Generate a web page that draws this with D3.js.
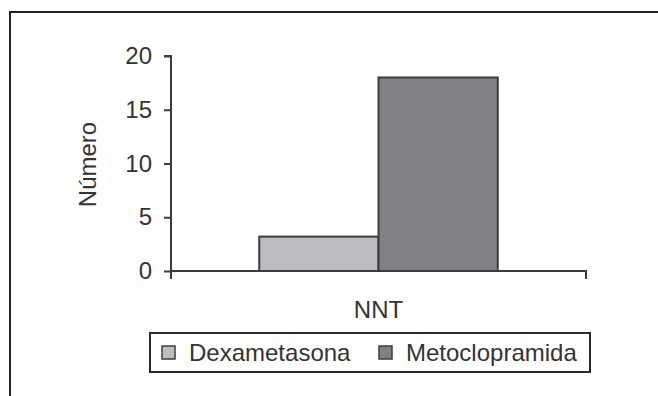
<!DOCTYPE html>
<html>
<head>
<meta charset="utf-8">
<script src="https://cdn.jsdelivr.net/npm/d3@7"></script>
<style>
  html, body { margin: 0; padding: 0; background: #fff; }
  svg { display: block; font-family: "Liberation Sans", Arial, sans-serif; }
</style>
</head>
<body>
<svg id="chart" width="658" height="396"></svg>
<script>
// NNT by drug
const categories = ["NNT"];
const seriesNames = ["Dexametasona", "Metoclopramida"];
const seriesValues = [3.2, 18];
const seriesColors = ["#bcbdc0", "#808184"];
const yTicks = [0, 5, 10, 15, 20];
const yLabel = "Número";

const svg = d3.select("#chart");
const ink = "#3c3c3c";
const textColor = "#333";
const fontSize = 24;

// outer frame (top and left edges)
svg.append("path")
  .attr("d", "M10,396 V12 H658")
  .attr("fill", "none")
  .attr("stroke", "#222")
  .attr("stroke-width", 2);

const plot = { left: 171, right: 586, top: 56, bottom: 271 };

const x0 = d3.scaleBand().domain(categories).range([plot.left, plot.right]).paddingInner(0).paddingOuter(0);
const x1 = d3.scaleBand().domain(seriesNames).range([0, x0.bandwidth()]).paddingInner(0).paddingOuter(0.74);
const y = d3.scaleLinear().domain([0, 20]).range([plot.bottom, plot.top]);

// bars
const g = svg.append("g");
categories.forEach(cat => {
  seriesNames.forEach((s, i) => {
    g.append("rect")
      .attr("x", x0(cat) + x1(s))
      .attr("y", y(seriesValues[i]))
      .attr("width", x1.bandwidth())
      .attr("height", y(0) - y(seriesValues[i]))
      .attr("fill", seriesColors[i])
      .attr("stroke", ink)
      .attr("stroke-width", 2);
  });
});

// y axis
const yAxis = d3.axisLeft(y).tickValues(yTicks).tickSize(7).tickPadding(12).tickFormat(d3.format("d"));
const ya = svg.append("g").attr("transform", `translate(${plot.left},0)`).call(yAxis);
ya.attr("font-size", null).attr("font-family", null);
ya.select(".domain").attr("d", `M-7,${plot.top}H0V${plot.bottom + 8}`).attr("stroke", ink).attr("stroke-width", 2);
ya.selectAll(".tick line").attr("stroke", ink).attr("stroke-width", 2);
ya.selectAll(".tick text").style("font-size", fontSize + "px").attr("fill", textColor);

// x axis
const xAxis = d3.axisBottom(x0).tickSize(0).tickFormat("");
const xa = svg.append("g").attr("transform", `translate(0,${plot.bottom})`).call(xAxis);
xa.select(".domain").attr("d", `M${plot.left},0H${plot.right}V8`).attr("stroke", ink).attr("stroke-width", 2).attr("fill", "none");
xa.selectAll(".tick").remove();

// category label
categories.forEach(cat => {
  svg.append("text")
    .attr("x", x0(cat) + x0.bandwidth() / 2)
    .attr("y", 318)
    .attr("text-anchor", "middle")
    .style("font-size", fontSize + "px")
    .attr("fill", textColor)
    .text(cat);
});

// y axis title
svg.append("text")
  .attr("transform", `translate(96,${(plot.top + plot.bottom) / 2 + 1}) rotate(-90)`)
  .attr("text-anchor", "middle")
  .style("font-size", fontSize + "px")
  .attr("fill", textColor)
  .text(yLabel);

// legend
const legend = svg.append("g");
legend.append("rect")
  .attr("x", 150).attr("y", 333).attr("width", 440).attr("height", 39)
  .attr("fill", "#fff").attr("stroke", "#2a2a2a").attr("stroke-width", 2);
const legendX = [162, 379];
seriesNames.forEach((s, i) => {
  legend.append("rect")
    .attr("x", legendX[i]).attr("y", 346).attr("width", 13).attr("height", 13)
    .attr("fill", seriesColors[i]).attr("stroke", ink).attr("stroke-width", 1.5);
  legend.append("text")
    .attr("x", legendX[i] + 27).attr("y", 361)
    .style("font-size", fontSize + "px")
    .attr("fill", textColor)
    .text(s);
});
</script>
</body>
</html>
